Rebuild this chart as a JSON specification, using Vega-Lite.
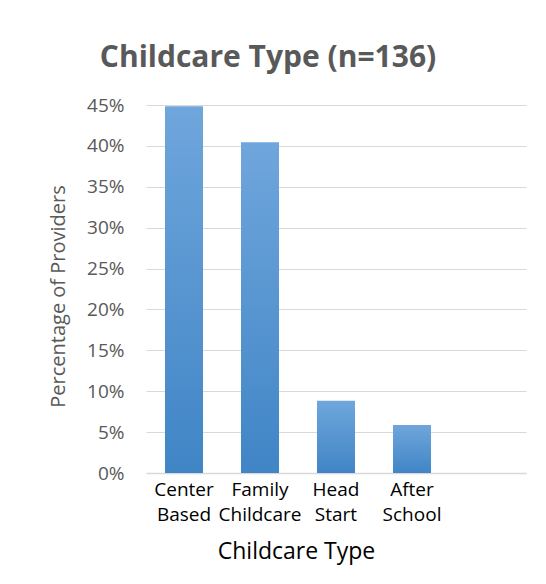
{
  "$schema": "https://vega.github.io/schema/vega-lite/v6.json",
  "width": 380,
  "height": 368,
  "autosize": {"type": "none"},
  "padding": {"left": 146, "top": 105, "right": 20, "bottom": 111},
  "background": "white",
  "title": {
    "text": "Childcare Type (n=136)",
    "font": "Open Sans",
    "fontSize": 30,
    "fontWeight": "bold",
    "color": "#595959",
    "anchor": "middle",
    "dx": -68,
    "offset": 23
  },
  "data": {
    "values": [
      {"type": "Center Based", "share": 0.4485},
      {"type": "Family Childcare", "share": 0.4044},
      {"type": "Head Start", "share": 0.0882},
      {"type": "After School", "share": 0.0588}
    ]
  },
  "config": {
    "view": {"stroke": null},
    "axis": {"labelFont": "Open Sans", "titleFont": "Open Sans", "titleFontWeight": "normal"}
  },
  "mark": {
    "type": "bar",
    "color": {
      "gradient": "linear",
      "x1": 0, "y1": 0, "x2": 0, "y2": 1,
      "stops": [
        {"offset": 0, "color": "#6FA6DC"},
        {"offset": 1, "color": "#4085C6"}
      ]
    }
  },
  "encoding": {
    "x": {
      "field": "type",
      "type": "nominal",
      "sort": null,
      "scale": {
        "domain": ["Center Based", "Family Childcare", "Head Start", "After School", " "],
        "paddingInner": 0.5,
        "paddingOuter": 0.25
      },
      "axis": {
        "title": "Childcare Type",
        "titleFontSize": 23,
        "titleColor": "#000000",
        "titlePadding": 16,
        "titleX": 150,
        "labelAngle": 0,
        "labelFontSize": 19,
        "labelColor": "#000000",
        "labelPadding": 7,
        "labelLineHeight": 25,
        "labelExpr": "split(datum.label, ' ')",
        "ticks": false,
        "domainColor": "#D9D9D9",
        "domainWidth": 1.5,
        "grid": false
      }
    },
    "y": {
      "field": "share",
      "type": "quantitative",
      "scale": {"domain": [0, 0.45]},
      "axis": {
        "title": "Percentage of Providers",
        "titleFontSize": 20,
        "titleColor": "#595959",
        "titlePadding": 18,
        "titleY": 191,
        "format": ".0%",
        "values": [0, 0.05, 0.1, 0.15, 0.2, 0.25, 0.3, 0.35, 0.4, 0.45],
        "labelFontSize": 19,
        "labelColor": "#595959",
        "labelPadding": 22,
        "ticks": false,
        "domain": false,
        "gridColor": "#D9D9D9",
        "gridWidth": 1
      }
    }
  }
}
